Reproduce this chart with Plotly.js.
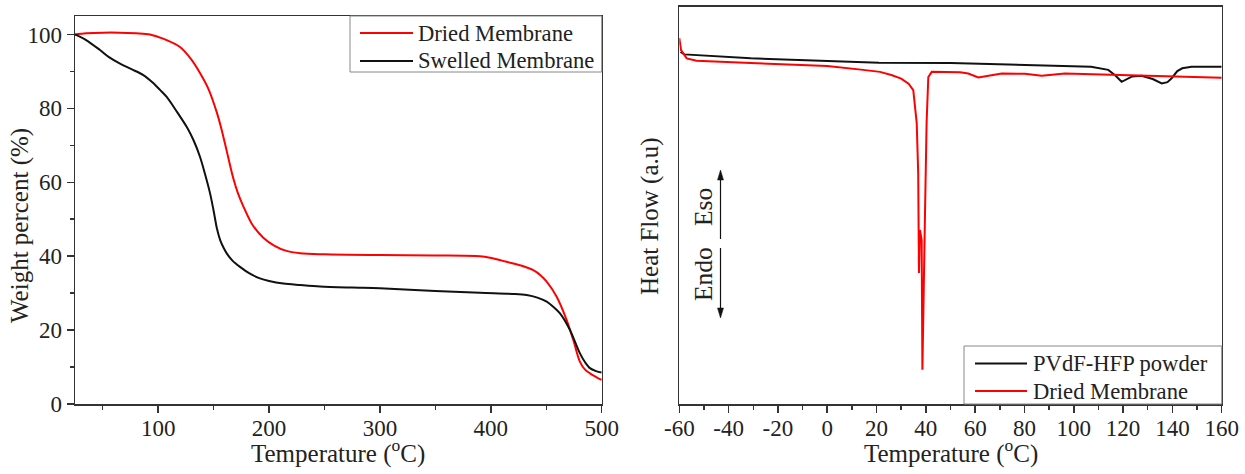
<!DOCTYPE html>
<html>
<head>
<meta charset="utf-8">
<script src="https://cdn.plot.ly/plotly-3.0.1.min.js"></script>
<style>html,body{margin:0;padding:0;background:#fff;}#chart{width:1245px;height:474px;}</style>
</head>
<body>
<div id="chart"></div>
<script>
// ---- TGA (left panel) ----
const tgaDriedT = [25, 35, 50, 65, 80, 92.6, 105, 119.7, 130, 137.7, 145, 152.8, 157, 161.8, 167.8, 172, 176.8, 185, 194.8, 205, 215, 228, 250, 300, 350, 390.3, 399.3, 410, 420.3, 430, 438.3, 445, 450.4, 459.4, 468.4, 474.4, 480.4, 485, 489.4, 495, 500];
const tgaDriedW = [100, 100.3, 100.5, 100.5, 100.3, 100, 98.8, 96.6, 93.2, 89.6, 85.5, 79.0, 74.5, 68.5, 61.0, 57.0, 53.5, 48.5, 45.0, 42.8, 41.5, 40.8, 40.5, 40.3, 40.2, 40.0, 39.6, 38.8, 38.0, 37.2, 36.2, 34.8, 33.1, 29.0, 22.7, 17.3, 11.4, 9.3, 8.3, 7.3, 6.5];
const tgaSwelledT = [25, 35, 47.5, 56, 65.6, 76, 86.6, 95, 101.7, 107.7, 116, 125.7, 132, 137.7, 142, 146.8, 150, 153, 156, 159, 162, 167, 173.8, 182, 191.8, 200, 212.9, 228, 246, 275, 300, 350, 390.3, 420, 432.3, 442, 450.4, 456, 462.4, 471.4, 480.4, 485, 489.4, 495, 500];
const tgaSwelledW = [100, 98.5, 95.8, 93.8, 92.1, 90.6, 89.0, 87.0, 85.0, 83.1, 79.5, 75.0, 71.3, 66.9, 62.5, 57.0, 52.3, 47.5, 44.3, 42.3, 40.7, 38.8, 37.1, 35.4, 34.0, 33.3, 32.6, 32.2, 31.8, 31.5, 31.3, 30.6, 30.1, 29.8, 29.5, 28.8, 27.7, 26.4, 24.5, 20.0, 13.7, 11.3, 9.7, 8.9, 8.5];

// ---- DSC (right panel), heat flow in arbitrary units ----
const dscPowderT = [-59.5, -58, -31, 21, 50, 107, 114, 117, 119.4, 121.5, 123.5, 127.5, 132, 135.7, 138, 139.7, 142, 144, 147.8, 160];
const dscPowderH = [88.6, 88.0, 87.0, 85.9, 85.8, 84.9, 84.1, 82.6, 81.1, 81.8, 82.4, 82.6, 81.8, 80.7, 81.0, 82.0, 83.8, 84.5, 84.9, 84.9];
const dscDriedT = [-60, -59.3, -57, -53, -31, 0, 14.6, 21.4, 26, 30, 33, 34.9, 36.3, 36.9, 37.2, 37.6, 38.3, 38.6, 39.7, 40.3, 41.0, 42.4, 53.9, 57.2, 61.3, 65.3, 70.8, 80.2, 87, 96.4, 120.8, 160];
const dscDriedH = [92.1, 89.1, 87.0, 86.4, 85.8, 85.1, 84.1, 83.6, 82.8, 81.9, 80.6, 79.0, 70.7, 58.1, 33.0, 43.8, 41.3, 8.6, 49.6, 70.7, 82.3, 83.6, 83.5, 83.2, 82.2, 82.6, 83.2, 83.1, 82.6, 83.2, 82.8, 82.1];

const tgaTicks = [100, 200, 300, 400, 500];
const dscTicks = [-60, -40, -20, 0, 20, 40, 60, 80, 100, 120, 140, 160];
const dscTickText = ['-60', '-40', '-20', '0', '20', '40', '60', '80', '100', '120', '140', '160'];

const leftLegend = ['Dried Membrane', 'Swelled Membrane'];
const rightLegend = ['PVdF-HFP powder', 'Dried Membrane'];

const W = 1245, H = 474;
const FONT = "Liberation Serif, Times New Roman, serif";
const AX = '#333';
const TXT = '#222';
const RED = '#ff0000', BLK = '#111111';
const px = v => v / W;          // pixel x -> paper
const py = v => 1 - v / H;      // pixel y -> paper

const traces = [
  {x: tgaDriedT, y: tgaDriedW, name: leftLegend[0], mode: 'lines', line: {color: RED, width: 2, shape: 'spline', smoothing: 0.9}, xaxis: 'x', yaxis: 'y'},
  {x: tgaSwelledT, y: tgaSwelledW, name: leftLegend[1], mode: 'lines', line: {color: BLK, width: 2, shape: 'spline', smoothing: 0.9}, xaxis: 'x', yaxis: 'y'},
  {x: dscPowderT, y: dscPowderH, name: rightLegend[0], mode: 'lines', line: {color: BLK, width: 2}, xaxis: 'x2', yaxis: 'y2'},
  {x: dscDriedT, y: dscDriedH, name: rightLegend[1], mode: 'lines', line: {color: RED, width: 2}, xaxis: 'x2', yaxis: 'y2'}
];

function axBase() {
  return {showline: true, mirror: true, linecolor: AX, linewidth: 1.5, showgrid: false, zeroline: false,
          ticks: 'outside', ticklen: 7, tickwidth: 1.5, tickcolor: AX, ticklabelstandoff: -4,
          tickfont: {family: FONT, size: 23, color: TXT}};
}
const minorX = d => ({dtick: d, tick0: 0, ticks: 'outside', ticklen: 4, tickwidth: 1.5, tickcolor: AX});

const titleFont = {family: FONT, size: 25, color: TXT};
const legFont = {family: FONT, size: 22.6, color: TXT};

const shapes = [];
const annotations = [];

// legend boxes (drawn by hand to match the reference's compact frames)
function legendBox(x0, x1, y0, y1, items) {
  shapes.push({type: 'rect', xref: 'paper', yref: 'paper', x0: px(x0), x1: px(x1), y0: py(y1), y1: py(y0),
               line: {color: '#888', width: 1}, fillcolor: '#fff', layer: 'above'});
  items.forEach(it => {
    shapes.push({type: 'line', xref: 'paper', yref: 'paper', x0: px(it.lx0), x1: px(it.lx1), y0: py(it.y), y1: py(it.y),
                 line: {color: it.color, width: 2}, layer: 'above'});
    annotations.push({xref: 'paper', yref: 'paper', x: px(it.tx), y: py(it.y), xanchor: 'left', yanchor: 'middle',
                      text: it.text, showarrow: false, font: legFont});
  });
}
legendBox(350, 601.7, 16, 72, [
  {lx0: 360, lx1: 413, tx: 416, y: 33, color: RED, text: leftLegend[0]},
  {lx0: 360, lx1: 413, tx: 416, y: 61, color: BLK, text: leftLegend[1]}
]);
legendBox(964, 1221.7, 346, 404, [
  {lx0: 975, lx1: 1027, tx: 1031, y: 363.5, color: BLK, text: rightLegend[0]},
  {lx0: 975, lx1: 1027, tx: 1031, y: 391, color: RED, text: rightLegend[1]}
]);

// Endo / Eso arrows
function arrow(xPx, tailPx, tipPx) {
  const dir = tipPx < tailPx ? 1 : -1; // 1: pointing up
  const baseY = tipPx + dir * 10;
  shapes.push({type: 'line', xref: 'paper', yref: 'paper', x0: px(xPx), x1: px(xPx), y0: py(tailPx), y1: py(baseY),
               line: {color: BLK, width: 1.2}});
  shapes.push({type: 'path', xref: 'paper', yref: 'paper',
               path: `M ${px(xPx - 3)} ${py(baseY)} L ${px(xPx + 3)} ${py(baseY)} L ${px(xPx)} ${py(tipPx)} Z`,
               fillcolor: BLK, line: {color: BLK, width: 0.5}});
}
arrow(720.5, 239, 170);
arrow(720.5, 248, 318);
const C = {xanchor: 'center', yanchor: 'middle', showarrow: false, xref: 'paper', yref: 'paper'};
annotations.push(Object.assign({x: px(703.5), y: py(207.5), text: 'Eso', textangle: -90, font: {family: FONT, size: 25.5, color: TXT}}, C));
annotations.push(Object.assign({x: px(703.5), y: py(274.5), text: 'Endo', textangle: -90, font: {family: FONT, size: 25.5, color: TXT}}, C));

// axis titles
annotations.push(Object.assign({x: px(338.5), y: py(451), text: 'Temperature (<sup>o</sup>C)', font: titleFont}, C));
annotations.push(Object.assign({x: px(950.5), y: py(451), text: 'Temperature (<sup>o</sup>C)', font: titleFont}, C));
annotations.push(Object.assign({x: px(20), y: py(226), text: 'Weight percent (%)', textangle: -90, font: titleFont}, C));
annotations.push(Object.assign({x: px(650), y: py(216), text: 'Heat Flow (a.u)', textangle: -90, font: titleFont}, C));

const layout = {
  width: W, height: H,
  margin: {l: 0, r: 0, t: 0, b: 0},
  paper_bgcolor: '#fff', plot_bgcolor: '#fff',
  font: {family: FONT, size: 22, color: TXT},
  showlegend: false,
  xaxis: Object.assign(axBase(), {
    domain: [px(75), px(601.7)], range: [25, 500], tickvals: tgaTicks, anchor: 'y', minor: minorX(50)
  }),
  yaxis: Object.assign(axBase(), {
    domain: [py(404), py(16)], range: [0, 105], dtick: 20, tick0: 0, anchor: 'x', minor: minorX(10), ticklabelstandoff: 0
  }),
  xaxis2: Object.assign(axBase(), {
    domain: [px(679.3), px(1221.7)], range: [-60, 160], tickvals: dscTicks, ticktext: dscTickText, anchor: 'y2', minor: minorX(10)
  }),
  yaxis2: Object.assign(axBase(), {
    domain: [py(404), py(6.7)], range: [0, 100], anchor: 'x2', ticks: '', showticklabels: false
  }),
  shapes: shapes,
  annotations: annotations
};

Plotly.newPlot('chart', traces, layout, {staticPlot: true, displayModeBar: false});
</script>
</body>
</html>
